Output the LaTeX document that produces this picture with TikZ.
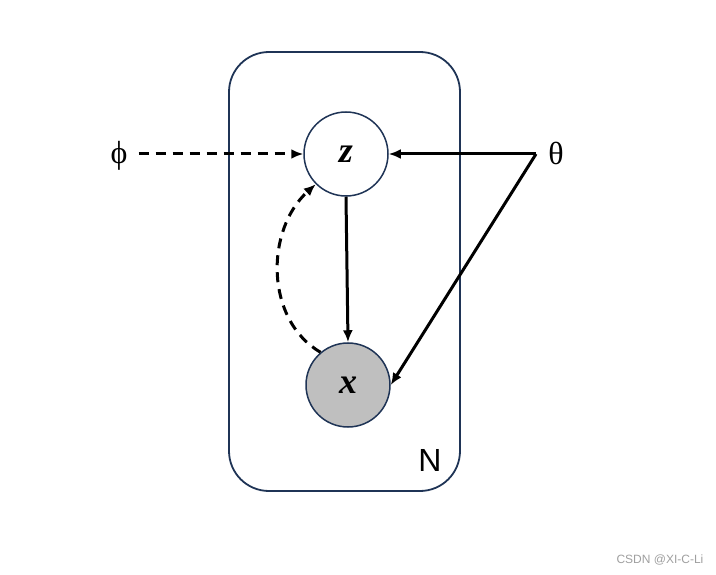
\documentclass[tikz,border=0pt]{standalone}
\usepackage{fontspec}
\setmainfont{Liberation Serif}
\newfontfamily\sansf{Liberation Sans}
\usetikzlibrary{arrows.meta}
\definecolor{navy}{HTML}{1F3456}
\definecolor{obs}{HTML}{BFBFBF}
\begin{document}
\begin{tikzpicture}[x=1pt,y=-1pt,
  var/.style={circle,draw=navy,line width=1.5pt,minimum size=84pt,inner sep=0pt,font=\fontsize{36}{36}\selectfont\bfseries\itshape},
  conn/.style={line width=3pt,-{Latex[length=12pt,width=10pt]}},
  dconn/.style={conn,dash pattern=on 10pt off 7pt},
  lbl/.style={inner sep=0pt,font=\fontsize{32}{32}\selectfont}]
\useasboundingbox (0,0) rectangle (716,575);
\node[draw=navy,line width=1.8pt,rounded corners=40pt,minimum width=231pt,minimum height=439pt,inner sep=0pt] (plate) at (344.5,271.5) {};
\node[var,fill=white] (z) at (346,154) {z};
\node[var,fill=obs] (x) at (348,385) {x};
\node[lbl] (phi) at (119,156) {ϕ};
\node[lbl] (theta) at (556,153) {θ};
\coordinate (t) at (536,154);
\node[inner sep=0pt,font=\sansf\fontsize{32}{32}\selectfont] (N) at (430,460) {N};
\node[inner sep=0pt,text=gray!75,font=\sansf\fontsize{12}{12}\selectfont] (wm) at (660,560) {CSDN @XI-C-Li};
\draw[dconn] ([xshift=11pt]phi.east |- z.west) -- (z.west);
\draw[conn] (t) -- (z.east);
\draw[conn] (t) -- (x.east);
\draw[conn] (z.south) -- (x.north);
\draw[dconn] (x.130) .. controls (265,320) and (265,230) .. (z.225);
\end{tikzpicture}
\end{document}
